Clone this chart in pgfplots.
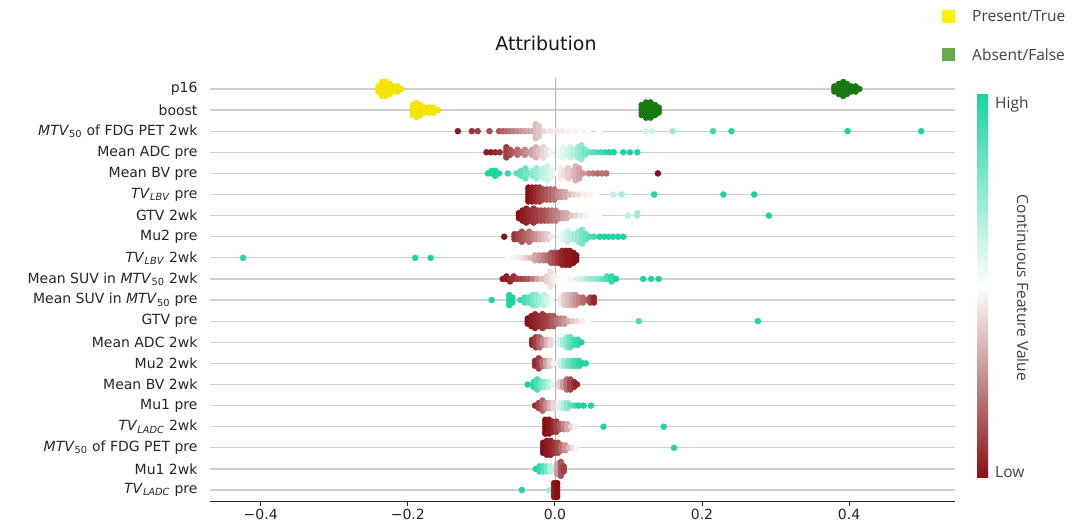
\documentclass[border=0pt]{standalone}
\usepackage{fontspec}
\setmainfont{DejaVu Sans}
\newfontfamily\legfont{Open Sans}
\usepackage{pgfplots}
\pgfplotsset{compat=1.18}
\definecolor{yel}{RGB}{245,228,0}
\definecolor{grn}{RGB}{24,122,14}
\definecolor{legyel}{RGB}{255,240,0}
\definecolor{leggrn}{RGB}{106,168,79}
\definecolor{gridc}{RGB}{208,208,208}
\definecolor{lowc}{RGB}{135,15,20}
\definecolor{highc}{RGB}{28,212,160}
\pgfplotsset{bee/.style={scatter, only marks, mark=*, mark size=3pt, scatter src=explicit,
  scatter/use mapped color={draw=mapped color,fill=mapped color}}}
\begin{document}
\begin{tikzpicture}
\useasboundingbox (0,0) rectangle (1090pt,532pt);
\begin{axis}[
 at={(210pt,31pt)}, anchor=south west,
 scale only axis, width=745pt, height=423pt,
 xmin=-0.469, xmax=0.544, ymin=-0.52, ymax=19.52,
 axis x line*=bottom, axis y line*=left,
 y axis line style={draw=none},
 x axis line style={line width=0.9pt, black!85},
 xtick={-0.4,-0.2,0,0.2,0.4},
 xticklabels={−0.4,−0.2,0.0,0.2,0.4},
 xtick style={line width=0.9pt, black!85},
 tick align=outside, major tick length=5pt,
 ytick={0,...,19},
 ytick style={draw=none},
 yticklabel style={xshift=-4pt},
 yticklabels={{\textit{TV}\textsubscript{\textit{LADC}} pre},{Mu1 2wk},{\textit{MTV}\textsubscript{50} of FDG PET pre},{\textit{TV}\textsubscript{\textit{LADC}} 2wk},{Mu1 pre},{Mean BV 2wk},{Mu2 2wk},{Mean ADC 2wk},{GTV pre},{Mean SUV in \textit{MTV}\textsubscript{50} pre},{Mean SUV in \textit{MTV}\textsubscript{50} 2wk},{\textit{TV}\textsubscript{\textit{LBV}} 2wk},{Mu2 pre},{GTV 2wk},{\textit{TV}\textsubscript{\textit{LBV}} pre},{Mean BV pre},{Mean ADC pre},{\textit{MTV}\textsubscript{50} of FDG PET 2wk},{boost},{p16}},
 ticklabel style={font=\fontsize{14}{16}\selectfont, text=black!85},
 ymajorgrids, grid style={gridc, line width=1.2pt},
 colormap={shap}{rgb255=(135,15,20) rgb255=(255,255,255) rgb255=(28,212,160)},
 point meta min=0, point meta max=1,
 clip=false,
]
\addplot[gray!60, line width=0.8pt, forget plot] coordinates {(0,-0.52) (0,19.52)};
% p16 and boost (binary)
\addplot[only marks, mark=*, mark size=3pt, color=yel] coordinates {
(-0.240,19) (-0.240,19.12) (-0.240,18.88)
(-0.235,19) (-0.235,19.12) (-0.235,18.88) (-0.235,19.24) (-0.235,18.76) (-0.235,19.33) (-0.235,18.67)
(-0.230,19) (-0.230,19.12) (-0.230,18.88) (-0.230,19.24) (-0.230,18.76) (-0.230,19.33) (-0.230,18.67)
(-0.225,19) (-0.225,19.12) (-0.225,18.88) (-0.225,19.24) (-0.225,18.76)
(-0.220,19) (-0.220,19.12) (-0.220,18.88)
(-0.214,19) (-0.214,19.12) (-0.214,18.88)
(-0.209,19)
(-0.193,18) (-0.193,18.12) (-0.193,17.88) (-0.193,18.24) (-0.193,17.76)
(-0.188,18) (-0.188,18.12) (-0.188,17.88) (-0.188,18.24) (-0.188,17.76) (-0.188,18.33) (-0.188,17.67)
(-0.183,18) (-0.183,18.12) (-0.183,17.88) (-0.183,18.24) (-0.183,17.76)
(-0.177,18) (-0.177,18.12) (-0.177,17.88)
(-0.171,18) (-0.171,18.12) (-0.171,17.88)
(-0.165,18) (-0.165,18.12) (-0.165,17.88)
(-0.159,18)
};
\addplot[only marks, mark=*, mark size=3pt, color=grn] coordinates {
(0.380,19) (0.380,19.12) (0.380,18.88)
(0.386,19) (0.386,19.12) (0.386,18.88) (0.386,19.24) (0.386,18.76)
(0.392,19) (0.392,19.12) (0.392,18.88) (0.392,19.24) (0.392,18.76) (0.392,19.33) (0.392,18.67)
(0.397,19) (0.397,19.12) (0.397,18.88) (0.397,19.24) (0.397,18.76)
(0.403,19) (0.403,19.12) (0.403,18.88)
(0.409,19) (0.409,19.12) (0.409,18.88)
(0.414,19)
(0.118,18) (0.118,18.12) (0.118,17.88) (0.118,18.24) (0.118,17.76)
(0.124,18) (0.124,18.12) (0.124,17.88) (0.124,18.24) (0.124,17.76) (0.124,18.36) (0.124,17.64)
(0.130,18) (0.130,18.12) (0.130,17.88) (0.130,18.24) (0.130,17.76) (0.130,18.36) (0.130,17.64)
(0.136,18) (0.136,18.12) (0.136,17.88) (0.136,18.24) (0.136,17.76)
(0.141,18) (0.141,18.12) (0.141,17.88)
};
% MTV50 of FDG PET 2wk
\addplot[bee] coordinates {
(-0.132,17) [0.02] (-0.113,17) [0.08] (-0.105,17) [0.10] (-0.089,17) [0.12] (-0.076,17) [0.15] (-0.071,17) [0.17] (-0.066,17) [0.19] (-0.061,17) [0.21] (-0.056,17) [0.23] (-0.051,17) [0.25] (-0.046,17) [0.27] (-0.041,17) [0.29] (-0.036,17) [0.31] (-0.031,17) [0.33]
(-0.026,17) [0.36] (-0.026,17.12) [0.36] (-0.026,16.88) [0.36] (-0.026,17.24) [0.36] (-0.026,16.76) [0.36] (-0.026,17.33) [0.36] (-0.026,16.67) [0.36]
(-0.022,17) [0.38] (-0.022,17.12) [0.38] (-0.022,16.88) [0.38] (-0.022,17.24) [0.38] (-0.022,16.76) [0.38]
(-0.015,17) [0.42] (-0.007,17) [0.44] (0.002,17) [0.45] (0.010,17) [0.46] (0.018,17) [0.47] (0.026,17) [0.48] (0.034,17) [0.49] (0.045,17) [0.5] (0.060,17) [0.5]
(0.123,17) [0.6] (0.132,17) [0.62] (0.160,17) [0.72] (0.215,17) [0.95] (0.240,17) [1] (0.398,17) [1] (0.498,17) [1]
};
% Mean ADC pre
\addplot[bee] coordinates {
(-0.093,16) [0.02] (-0.087,16) [0.03] (-0.081,16) [0.05] (-0.075,16) [0.07]
(-0.066,16) [0.1] (-0.066,16.12) [0.1] (-0.066,15.88) [0.1] (-0.066,16.24) [0.1] (-0.066,15.76) [0.1]
(-0.061,16) [0.13] (-0.061,16.12) [0.13] (-0.061,15.88) [0.13]
(-0.056,16) [0.16]
(-0.051,16) [0.19] (-0.051,16.12) [0.19] (-0.051,15.88) [0.19]
(-0.046,16) [0.22]
(-0.041,16) [0.25] (-0.041,16.12) [0.25] (-0.041,15.88) [0.25]
(-0.036,16) [0.28]
(-0.031,16) [0.31] (-0.031,16.12) [0.31] (-0.031,15.88) [0.31]
(-0.026,16) [0.34] (-0.026,16.12) [0.34] (-0.026,15.88) [0.34] (-0.026,16.24) [0.34] (-0.026,15.76) [0.34]
(-0.021,16) [0.38] (-0.021,16.12) [0.38] (-0.021,15.88) [0.38]
(-0.016,16) [0.41] (-0.016,16.12) [0.41] (-0.016,15.88) [0.41] (-0.016,16.24) [0.41] (-0.016,15.76) [0.41]
(-0.011,16) [0.44] (-0.011,16.12) [0.44] (-0.011,15.88) [0.44]
(-0.006,16) [0.47]
(0.006,16) [0.54] (0.006,16.12) [0.54] (0.006,15.88) [0.54]
(0.011,16) [0.57] (0.011,16.12) [0.57] (0.011,15.88) [0.57] (0.011,16.24) [0.57] (0.011,15.76) [0.57]
(0.016,16) [0.6] (0.016,16.12) [0.6] (0.016,15.88) [0.6]
(0.021,16) [0.63] (0.021,16.12) [0.63] (0.021,15.88) [0.63] (0.021,16.24) [0.63] (0.021,15.76) [0.63]
(0.026,16) [0.67] (0.026,16.12) [0.67] (0.026,15.88) [0.67]
(0.031,16) [0.71] (0.031,16.12) [0.71] (0.031,15.88) [0.71] (0.031,16.24) [0.71] (0.031,15.76) [0.71]
(0.036,16) [0.75] (0.036,16.12) [0.75] (0.036,15.88) [0.75] (0.036,16.24) [0.75] (0.036,15.76) [0.75] (0.036,16.33) [0.75] (0.036,15.67) [0.75]
(0.041,16) [0.79] (0.041,16.12) [0.79] (0.041,15.88) [0.79]
(0.046,16) [0.83] (0.051,16) [0.87] (0.056,16) [0.9] (0.062,16) [0.93] (0.068,16) [0.96] (0.074,16) [1] (0.080,16) [1] (0.093,16) [1] (0.102,16) [1] (0.112,16) [1]
};
% Mean BV pre
\addplot[bee] coordinates {
(-0.091,15) [1] (-0.086,15) [1] (-0.086,15.12) [1] (-0.081,15) [1] (-0.081,15.12) [1] (-0.081,14.88) [1] (-0.076,15) [0.98] (-0.064,15) [0.95] (-0.052,15) [0.88]
(-0.046,15) [0.85] (-0.046,15.12) [0.85] (-0.046,14.88) [0.85]
(-0.040,15) [0.82] (-0.040,15.12) [0.82] (-0.040,14.88) [0.82] (-0.040,15.24) [0.82] (-0.040,14.76) [0.82]
(-0.035,15) [0.78]
(-0.030,15) [0.75] (-0.030,15.12) [0.75] (-0.030,14.88) [0.75]
(-0.025,15) [0.72] (-0.025,15.12) [0.72] (-0.025,14.88) [0.72] (-0.025,15.24) [0.72] (-0.025,14.76) [0.72]
(-0.020,15) [0.68] (-0.020,15.12) [0.68] (-0.020,14.88) [0.68]
(-0.015,15) [0.65] (-0.015,15.12) [0.65] (-0.015,14.88) [0.65] (-0.015,15.24) [0.65] (-0.015,14.76) [0.65]
(-0.010,15) [0.62] (-0.010,15.12) [0.62] (-0.010,14.88) [0.62] (-0.010,15.24) [0.62] (-0.010,14.76) [0.62] (-0.010,15.33) [0.62] (-0.010,14.67) [0.62]
(-0.005,15) [0.58] (-0.005,15.12) [0.58] (-0.005,14.88) [0.58]
(0.000,15) [0.53]
(0.008,15) [0.46] (0.008,15.12) [0.46] (0.008,14.88) [0.46] (0.008,15.24) [0.46] (0.008,14.76) [0.46]
(0.013,15) [0.43] (0.013,15.12) [0.43] (0.013,14.88) [0.43]
(0.018,15) [0.4] (0.018,15.12) [0.4] (0.018,14.88) [0.4] (0.018,15.24) [0.4] (0.018,14.76) [0.4]
(0.023,15) [0.37] (0.023,15.12) [0.37] (0.023,14.88) [0.37]
(0.028,15) [0.34] (0.028,15.12) [0.34] (0.028,14.88) [0.34] (0.028,15.24) [0.34] (0.028,14.76) [0.34] (0.028,15.33) [0.34] (0.028,14.67) [0.34]
(0.033,15) [0.31] (0.033,15.12) [0.31] (0.033,14.88) [0.31] (0.033,15.24) [0.31] (0.033,14.76) [0.31]
(0.038,15) [0.28] (0.046,15) [0.25] (0.052,15) [0.22] (0.058,15) [0.2] (0.064,15) [0.2] (0.070,15) [0.2] (0.140,15) [0]
};
% TV_LBV pre
\addplot[bee] coordinates {
(-0.036,14) [0] (-0.036,14.12) [0] (-0.036,13.88) [0] (-0.036,14.24) [0] (-0.036,13.76) [0] (-0.036,14.33) [0] (-0.036,13.67) [0]
(-0.031,14) [0.03] (-0.031,14.12) [0.03] (-0.031,13.88) [0.03] (-0.031,14.24) [0.03] (-0.031,13.76) [0.03] (-0.031,14.33) [0.03] (-0.031,13.67) [0.03]
(-0.026,14) [0.06] (-0.026,14.12) [0.06] (-0.026,13.88) [0.06] (-0.026,14.24) [0.06] (-0.026,13.76) [0.06] (-0.026,14.33) [0.06] (-0.026,13.67) [0.06]
(-0.021,14) [0.09] (-0.021,14.12) [0.09] (-0.021,13.88) [0.09] (-0.021,14.24) [0.09] (-0.021,13.76) [0.09] (-0.021,14.33) [0.09] (-0.021,13.67) [0.09]
(-0.016,14) [0.12] (-0.016,14.12) [0.12] (-0.016,13.88) [0.12] (-0.016,14.24) [0.12] (-0.016,13.76) [0.12]
(-0.011,14) [0.15] (-0.011,14.12) [0.15] (-0.011,13.88) [0.15] (-0.011,14.24) [0.15] (-0.011,13.76) [0.15]
(-0.006,14) [0.18] (-0.006,14.12) [0.18] (-0.006,13.88) [0.18] (-0.006,14.24) [0.18] (-0.006,13.76) [0.18]
(-0.001,14) [0.21] (-0.001,14.12) [0.21] (-0.001,13.88) [0.21] (-0.001,14.24) [0.21] (-0.001,13.76) [0.21]
(0.004,14) [0.25] (0.004,14.12) [0.25] (0.004,13.88) [0.25]
(0.009,14) [0.28] (0.009,14.12) [0.28] (0.009,13.88) [0.28]
(0.014,14) [0.32] (0.014,14.12) [0.32] (0.014,13.88) [0.32]
(0.020,14) [0.36] (0.026,14) [0.4] (0.032,14) [0.43] (0.040,14) [0.46] (0.048,14) [0.48] (0.056,14) [0.5]
(0.079,14) [0.65] (0.091,14) [0.7] (0.135,14) [1] (0.229,14) [1] (0.271,14) [1]
};
% GTV 2wk
\addplot[bee] coordinates {
(-0.049,13) [0] (-0.049,13.12) [0] (-0.049,12.88) [0]
(-0.044,13) [0.02] (-0.044,13.12) [0.02] (-0.044,12.88) [0.02] (-0.044,13.24) [0.02] (-0.044,12.76) [0.02]
(-0.039,13) [0.04] (-0.039,13.12) [0.04] (-0.039,12.88) [0.04] (-0.039,13.24) [0.04] (-0.039,12.76) [0.04] (-0.039,13.33) [0.04] (-0.039,12.67) [0.04]
(-0.034,13) [0.06] (-0.034,13.12) [0.06] (-0.034,12.88) [0.06] (-0.034,13.24) [0.06] (-0.034,12.76) [0.06]
(-0.029,13) [0.08] (-0.029,13.12) [0.08] (-0.029,12.88) [0.08] (-0.029,13.24) [0.08] (-0.029,12.76) [0.08] (-0.029,13.33) [0.08] (-0.029,12.67) [0.08]
(-0.024,13) [0.1] (-0.024,13.12) [0.1] (-0.024,12.88) [0.1] (-0.024,13.24) [0.1] (-0.024,12.76) [0.1]
(-0.019,13) [0.12] (-0.019,13.12) [0.12] (-0.019,12.88) [0.12] (-0.019,13.24) [0.12] (-0.019,12.76) [0.12]
(-0.014,13) [0.14] (-0.014,13.12) [0.14] (-0.014,12.88) [0.14] (-0.014,13.24) [0.14] (-0.014,12.76) [0.14]
(-0.009,13) [0.17] (-0.009,13.12) [0.17] (-0.009,12.88) [0.17] (-0.009,13.24) [0.17] (-0.009,12.76) [0.17]
(-0.004,13) [0.2] (-0.004,13.12) [0.2] (-0.004,12.88) [0.2] (-0.004,13.24) [0.2] (-0.004,12.76) [0.2]
(0.001,13) [0.23] (0.001,13.12) [0.23] (0.001,12.88) [0.23] (0.001,13.24) [0.23] (0.001,12.76) [0.23]
(0.006,13) [0.26] (0.006,13.12) [0.26] (0.006,12.88) [0.26]
(0.011,13) [0.3] (0.011,13.12) [0.3] (0.011,12.88) [0.3]
(0.016,13) [0.33] (0.016,13.12) [0.33] (0.016,12.88) [0.33]
(0.022,13) [0.37] (0.028,13) [0.41] (0.035,13) [0.45] (0.043,13) [0.48] (0.051,13) [0.5] (0.060,13) [0.52]
(0.099,13) [0.65] (0.112,13) [0.7] (0.112,13.12) [0.7] (0.291,13) [1]
};
% Mu2 pre
\addplot[bee] coordinates {
(-0.069,12) [0]
(-0.055,12) [0.08] (-0.055,12.12) [0.08] (-0.055,11.88) [0.08]
(-0.050,12) [0.11] (-0.050,12.12) [0.11] (-0.050,11.88) [0.11]
(-0.045,12) [0.14] (-0.045,12.12) [0.14] (-0.045,11.88) [0.14] (-0.045,12.24) [0.14] (-0.045,11.76) [0.14]
(-0.040,12) [0.17] (-0.040,12.12) [0.17] (-0.040,11.88) [0.17]
(-0.035,12) [0.2] (-0.035,12.12) [0.2] (-0.035,11.88) [0.2] (-0.035,12.24) [0.2] (-0.035,11.76) [0.2]
(-0.030,12) [0.24] (-0.030,12.12) [0.24] (-0.030,11.88) [0.24]
(-0.025,12) [0.28] (-0.025,12.12) [0.28] (-0.025,11.88) [0.28]
(-0.020,12) [0.32] (-0.020,12.12) [0.32] (-0.020,11.88) [0.32]
(-0.015,12) [0.36] (-0.015,12.12) [0.36] (-0.015,11.88) [0.36]
(-0.010,12) [0.4] (-0.010,12.12) [0.4] (-0.010,11.88) [0.4]
(-0.005,12) [0.45]
(0.007,12) [0.55] (0.007,12.12) [0.55] (0.007,11.88) [0.55]
(0.012,12) [0.58] (0.012,12.12) [0.58] (0.012,11.88) [0.58]
(0.017,12) [0.62] (0.017,12.12) [0.62] (0.017,11.88) [0.62] (0.017,12.24) [0.62] (0.017,11.76) [0.62]
(0.022,12) [0.66] (0.022,12.12) [0.66] (0.022,11.88) [0.66]
(0.027,12) [0.7] (0.027,12.12) [0.7] (0.027,11.88) [0.7]
(0.032,12) [0.74] (0.032,12.12) [0.74] (0.032,11.88) [0.74] (0.032,12.24) [0.74] (0.032,11.76) [0.74]
(0.037,12) [0.8] (0.037,12.12) [0.8] (0.037,11.88) [0.8] (0.037,12.24) [0.8] (0.037,11.76) [0.8] (0.037,12.33) [0.8] (0.037,11.67) [0.8]
(0.042,12) [0.84] (0.042,12.12) [0.84] (0.042,11.88) [0.84]
(0.047,12) [0.88] (0.053,12) [0.92] (0.061,12) [1] (0.067,12) [1] (0.073,12) [1] (0.079,12) [1] (0.086,12) [1] (0.093,12) [1]
};
% TV_LBV 2wk
\addplot[bee] coordinates {
(-0.424,11) [1] (-0.190,11) [1] (-0.169,11) [1]
(-0.063,11) [0.5] (-0.057,11) [0.48] (-0.051,11) [0.46] (-0.045,11) [0.44] (-0.039,11) [0.4] (-0.033,11) [0.36]
(-0.027,11) [0.32] (-0.027,11.12) [0.32] (-0.027,10.88) [0.32]
(-0.021,11) [0.28] (-0.021,11.12) [0.28] (-0.021,10.88) [0.28]
(-0.015,11) [0.24] (-0.015,11.12) [0.24] (-0.015,10.88) [0.24]
(-0.010,11) [0.2] (-0.010,11.12) [0.2] (-0.010,10.88) [0.2]
(-0.005,11) [0.16] (-0.005,11.12) [0.16] (-0.005,10.88) [0.16] (-0.005,11.24) [0.16] (-0.005,10.76) [0.16]
(0.000,11) [0.12] (0.000,11.12) [0.12] (0.000,10.88) [0.12] (0.000,11.24) [0.12] (0.000,10.76) [0.12]
(0.005,11) [0.08] (0.005,11.12) [0.08] (0.005,10.88) [0.08] (0.005,11.24) [0.08] (0.005,10.76) [0.08]
(0.010,11) [0.05] (0.010,11.12) [0.05] (0.010,10.88) [0.05] (0.010,11.24) [0.05] (0.010,10.76) [0.05] (0.010,11.33) [0.05] (0.010,10.67) [0.05]
(0.015,11) [0.03] (0.015,11.12) [0.03] (0.015,10.88) [0.03] (0.015,11.24) [0.03] (0.015,10.76) [0.03] (0.015,11.33) [0.03] (0.015,10.67) [0.03]
(0.020,11) [0.02] (0.020,11.12) [0.02] (0.020,10.88) [0.02] (0.020,11.24) [0.02] (0.020,10.76) [0.02] (0.020,11.33) [0.02] (0.020,10.67) [0.02]
(0.025,11) [0.01] (0.025,11.12) [0.01] (0.025,10.88) [0.01] (0.025,11.24) [0.01] (0.025,10.76) [0.01]
(0.029,11) [0] (0.029,11.12) [0] (0.029,10.88) [0]
};
% Mean SUV in MTV50 2wk
\addplot[bee] coordinates {
(-0.071,10) [0.02] (-0.066,10) [0.03] (-0.066,10.12) [0.03] (-0.061,10) [0.05] (-0.061,9.88) [0.05] (-0.056,10) [0.07] (-0.056,10.12) [0.07] (-0.051,10) [0.09] (-0.046,10) [0.11] (-0.041,10) [0.13] (-0.036,10) [0.16] (-0.030,10) [0.22] (-0.024,10) [0.3] (-0.017,10) [0.36]
(-0.011,10) [0.4] (-0.011,10.12) [0.4] (-0.011,9.88) [0.4]
(-0.006,10) [0.43] (-0.006,10.12) [0.43] (-0.006,9.88) [0.43] (-0.006,10.24) [0.43] (-0.006,9.76) [0.43] (-0.006,10.33) [0.43] (-0.006,9.67) [0.43]
(-0.001,10) [0.46] (-0.001,10.12) [0.46] (-0.001,9.88) [0.46]
(0.006,10) [0.5] (0.014,10) [0.52] (0.022,10) [0.54] (0.031,10) [0.6] (0.037,10) [0.64] (0.043,10) [0.68] (0.049,10) [0.72] (0.055,10) [0.76] (0.061,10) [0.8] (0.066,10) [0.85]
(0.071,10) [0.9] (0.071,10.12) [0.9] (0.077,10) [0.95] (0.077,10.12) [0.95] (0.077,9.88) [0.95] (0.083,10) [1]
(0.120,10) [1] (0.131,10) [1] (0.141,10) [1]
};
% Mean SUV in MTV50 pre
\addplot[bee] coordinates {
(-0.086,9) [1]
(-0.062,9) [1] (-0.062,9.12) [1] (-0.062,8.88) [1] (-0.062,9.24) [1] (-0.062,8.76) [1]
(-0.058,9) [1] (-0.058,9.12) [1] (-0.058,8.88) [1]
(-0.047,9) [0.95]
(-0.041,9) [0.9] (-0.041,9.12) [0.9] (-0.041,8.88) [0.9]
(-0.035,9) [0.85] (-0.035,9.12) [0.85] (-0.035,8.88) [0.85]
(-0.030,9) [0.8] (-0.030,9.12) [0.8] (-0.030,8.88) [0.8] (-0.030,9.24) [0.8] (-0.030,8.76) [0.8]
(-0.025,9) [0.75] (-0.025,9.12) [0.75] (-0.025,8.88) [0.75] (-0.025,9.24) [0.75] (-0.025,8.76) [0.75]
(-0.020,9) [0.7] (-0.020,9.12) [0.7] (-0.020,8.88) [0.7]
(-0.015,9) [0.66] (-0.015,9.12) [0.66] (-0.015,8.88) [0.66] (-0.015,9.24) [0.66] (-0.015,8.76) [0.66]
(-0.010,9) [0.6] (-0.010,9.12) [0.6] (-0.010,8.88) [0.6]
(-0.005,9) [0.55]
(0.008,9) [0.45] (0.008,9.12) [0.45] (0.008,8.88) [0.45]
(0.013,9) [0.4] (0.013,9.12) [0.4] (0.013,8.88) [0.4] (0.013,9.24) [0.4] (0.013,8.76) [0.4]
(0.018,9) [0.36] (0.018,9.12) [0.36] (0.018,8.88) [0.36] (0.018,9.24) [0.36] (0.018,8.76) [0.36]
(0.023,9) [0.32] (0.023,9.12) [0.32] (0.023,8.88) [0.32] (0.023,9.24) [0.32] (0.023,8.76) [0.32]
(0.028,9) [0.28] (0.028,9.12) [0.28] (0.028,8.88) [0.28] (0.028,9.24) [0.28] (0.028,8.76) [0.28]
(0.033,9) [0.24] (0.033,9.12) [0.24] (0.033,8.88) [0.24]
(0.038,9) [0.2] (0.038,9.12) [0.2] (0.038,8.88) [0.2]
(0.043,9) [0.17]
(0.048,9) [0.12] (0.048,9.12) [0.12] (0.048,8.88) [0.12]
(0.053,9) [0.05] (0.053,9.12) [0.05] (0.053,8.88) [0.05]
};
% GTV pre
\addplot[bee] coordinates {
(-0.037,8) [0] (-0.037,8.12) [0] (-0.037,7.88) [0]
(-0.032,8) [0.02] (-0.032,8.12) [0.02] (-0.032,7.88) [0.02] (-0.032,8.24) [0.02] (-0.032,7.76) [0.02]
(-0.027,8) [0.04] (-0.027,8.12) [0.04] (-0.027,7.88) [0.04] (-0.027,8.24) [0.04] (-0.027,7.76) [0.04] (-0.027,8.33) [0.04] (-0.027,7.67) [0.04]
(-0.022,8) [0.06] (-0.022,8.12) [0.06] (-0.022,7.88) [0.06] (-0.022,8.24) [0.06] (-0.022,7.76) [0.06]
(-0.017,8) [0.08] (-0.017,8.12) [0.08] (-0.017,7.88) [0.08] (-0.017,8.24) [0.08] (-0.017,7.76) [0.08] (-0.017,8.33) [0.08] (-0.017,7.67) [0.08]
(-0.012,8) [0.1] (-0.012,8.12) [0.1] (-0.012,7.88) [0.1] (-0.012,8.24) [0.1] (-0.012,7.76) [0.1]
(-0.007,8) [0.13] (-0.007,8.12) [0.13] (-0.007,7.88) [0.13] (-0.007,8.24) [0.13] (-0.007,7.76) [0.13]
(-0.002,8) [0.16] (-0.002,8.12) [0.16] (-0.002,7.88) [0.16] (-0.002,8.24) [0.16] (-0.002,7.76) [0.16]
(0.003,8) [0.2] (0.003,8.12) [0.2] (0.003,7.88) [0.2]
(0.008,8) [0.24] (0.008,8.12) [0.24] (0.008,7.88) [0.24]
(0.013,8) [0.28] (0.013,8.12) [0.28] (0.013,7.88) [0.28]
(0.018,8) [0.33] (0.024,8) [0.38] (0.030,8) [0.42] (0.037,8) [0.46] (0.045,8) [0.49]
(0.114,8) [0.9] (0.276,8) [1]
};
% Mean ADC 2wk
\addplot[bee] coordinates {
(-0.031,7) [0.05] (-0.031,7.12) [0.05] (-0.031,6.88) [0.05]
(-0.026,7) [0.1] (-0.026,7.12) [0.1] (-0.026,6.88) [0.1] (-0.026,7.24) [0.1] (-0.026,6.76) [0.1]
(-0.021,7) [0.18] (-0.021,7.12) [0.18] (-0.021,6.88) [0.18] (-0.021,7.24) [0.18] (-0.021,6.76) [0.18]
(-0.016,7) [0.26] (-0.016,7.12) [0.26] (-0.016,6.88) [0.26]
(-0.011,7) [0.34] (-0.011,7.12) [0.34] (-0.011,6.88) [0.34]
(-0.006,7) [0.42] (-0.006,7.12) [0.42] (-0.006,6.88) [0.42]
(0.006,7) [0.6] (0.006,7.12) [0.6] (0.006,6.88) [0.6]
(0.011,7) [0.68] (0.011,7.12) [0.68] (0.011,6.88) [0.68]
(0.016,7) [0.76] (0.016,7.12) [0.76] (0.016,6.88) [0.76] (0.016,7.24) [0.76] (0.016,6.76) [0.76]
(0.021,7) [0.84] (0.021,7.12) [0.84] (0.021,6.88) [0.84] (0.021,7.24) [0.84] (0.021,6.76) [0.84]
(0.026,7) [0.9] (0.026,7.12) [0.9] (0.026,6.88) [0.9]
(0.031,7) [0.95] (0.031,7.12) [0.95] (0.031,6.88) [0.95]
(0.036,7) [1]
};
% Mu2 2wk
\addplot[bee] coordinates {
(-0.027,6) [0.05] (-0.027,6.12) [0.05] (-0.027,5.88) [0.05]
(-0.022,6) [0.1] (-0.022,6.12) [0.1] (-0.022,5.88) [0.1] (-0.022,6.24) [0.1] (-0.022,5.76) [0.1]
(-0.017,6) [0.2] (-0.017,6.12) [0.2] (-0.017,5.88) [0.2]
(-0.012,6) [0.3] (-0.012,6.12) [0.3] (-0.012,5.88) [0.3]
(-0.007,6) [0.4] (-0.007,6.12) [0.4] (-0.007,5.88) [0.4]
(-0.002,6) [0.47]
(0.008,6) [0.62] (0.008,6.12) [0.62] (0.008,5.88) [0.62]
(0.013,6) [0.72] (0.013,6.12) [0.72] (0.013,5.88) [0.72]
(0.018,6) [0.8] (0.018,6.12) [0.8] (0.018,5.88) [0.8]
(0.023,6) [0.86] (0.023,6.12) [0.86] (0.023,5.88) [0.86]
(0.028,6) [0.92] (0.028,6.12) [0.92] (0.028,5.88) [0.92]
(0.033,6) [0.96] (0.033,6.12) [0.96] (0.033,5.88) [0.96]
(0.038,6) [1] (0.042,6) [1]
};
% Mean BV 2wk
\addplot[bee] coordinates {
(-0.037,5) [1]
(-0.029,5) [0.95] (-0.029,5.12) [0.95] (-0.029,4.88) [0.95]
(-0.024,5) [0.9] (-0.024,5.12) [0.9] (-0.024,4.88) [0.9] (-0.024,5.24) [0.9] (-0.024,4.76) [0.9]
(-0.019,5) [0.82] (-0.019,5.12) [0.82] (-0.019,4.88) [0.82]
(-0.014,5) [0.75] (-0.014,5.12) [0.75] (-0.014,4.88) [0.75]
(-0.009,5) [0.67] (-0.009,5.12) [0.67] (-0.009,4.88) [0.67]
(-0.004,5) [0.58]
(0.006,5) [0.4] (0.006,5.12) [0.4] (0.006,4.88) [0.4]
(0.011,5) [0.3] (0.011,5.12) [0.3] (0.011,4.88) [0.3]
(0.016,5) [0.2] (0.016,5.12) [0.2] (0.016,4.88) [0.2] (0.016,5.24) [0.2] (0.016,4.76) [0.2]
(0.021,5) [0.12] (0.021,5.12) [0.12] (0.021,4.88) [0.12] (0.021,5.24) [0.12] (0.021,4.76) [0.12]
(0.026,5) [0.07] (0.026,5.12) [0.07] (0.026,4.88) [0.07]
(0.030,5) [0.04]
};
% Mu1 pre
\addplot[bee] coordinates {
(-0.027,4) [0.05]
(-0.022,4) [0.1] (-0.022,4.12) [0.1] (-0.022,3.88) [0.1]
(-0.017,4) [0.18] (-0.017,4.12) [0.18] (-0.017,3.88) [0.18] (-0.017,4.24) [0.18] (-0.017,3.76) [0.18]
(-0.012,4) [0.26] (-0.012,4.12) [0.26] (-0.012,3.88) [0.26]
(-0.007,4) [0.34] (-0.007,4.12) [0.34] (-0.007,3.88) [0.34]
(-0.002,4) [0.42] (-0.002,4.12) [0.42] (-0.002,3.88) [0.42]
(0.007,4) [0.6] (0.007,4.12) [0.6] (0.007,3.88) [0.6]
(0.012,4) [0.68] (0.012,4.12) [0.68] (0.012,3.88) [0.68]
(0.017,4) [0.76] (0.017,4.12) [0.76] (0.017,3.88) [0.76]
(0.022,4) [0.84] (0.027,4) [0.9] (0.032,4) [1] (0.039,4) [1] (0.049,4) [1]
};
% TV_LADC 2wk
\addplot[bee] coordinates {
(-0.013,3) [0] (-0.013,3.12) [0] (-0.013,2.88) [0] (-0.013,3.24) [0] (-0.013,2.76) [0] (-0.013,3.33) [0] (-0.013,2.67) [0]
(-0.008,3) [0.02] (-0.008,3.12) [0.02] (-0.008,2.88) [0.02] (-0.008,3.24) [0.02] (-0.008,2.76) [0.02] (-0.008,3.33) [0.02] (-0.008,2.67) [0.02]
(-0.003,3) [0.05] (-0.003,3.12) [0.05] (-0.003,2.88) [0.05] (-0.003,3.24) [0.05] (-0.003,2.76) [0.05]
(0.002,3) [0.1] (0.002,3.12) [0.1] (0.002,2.88) [0.1] (0.002,3.24) [0.1] (0.002,2.76) [0.1]
(0.007,3) [0.16] (0.007,3.12) [0.16] (0.007,2.88) [0.16]
(0.012,3) [0.24] (0.012,3.12) [0.24] (0.012,2.88) [0.24]
(0.017,3) [0.32] (0.017,3.12) [0.32] (0.017,2.88) [0.32]
(0.022,3) [0.4] (0.027,3) [0.46] (0.066,3) [1] (0.148,3) [1]
};
% MTV50 of FDG PET pre
\addplot[bee] coordinates {
(-0.016,2) [0] (-0.016,2.12) [0] (-0.016,1.88) [0] (-0.016,2.24) [0] (-0.016,1.76) [0]
(-0.011,2) [0.02] (-0.011,2.12) [0.02] (-0.011,1.88) [0.02] (-0.011,2.24) [0.02] (-0.011,1.76) [0.02] (-0.011,2.33) [0.02] (-0.011,1.67) [0.02]
(-0.006,2) [0.04] (-0.006,2.12) [0.04] (-0.006,1.88) [0.04] (-0.006,2.24) [0.04] (-0.006,1.76) [0.04] (-0.006,2.33) [0.04] (-0.006,1.67) [0.04]
(-0.001,2) [0.07] (-0.001,2.12) [0.07] (-0.001,1.88) [0.07] (-0.001,2.24) [0.07] (-0.001,1.76) [0.07]
(0.004,2) [0.12] (0.004,2.12) [0.12] (0.004,1.88) [0.12] (0.004,2.24) [0.12] (0.004,1.76) [0.12]
(0.009,2) [0.2] (0.009,2.12) [0.2] (0.009,1.88) [0.2]
(0.014,2) [0.28] (0.014,2.12) [0.28] (0.014,1.88) [0.28]
(0.019,2) [0.36] (0.024,2) [0.43] (0.029,2) [0.48] (0.162,2) [1]
};
% Mu1 2wk
\addplot[bee] coordinates {
(-0.026,1) [1]
(-0.021,1) [0.95] (-0.021,1.12) [0.95] (-0.021,0.88) [0.95]
(-0.016,1) [0.88] (-0.016,1.12) [0.88] (-0.016,0.88) [0.88]
(-0.011,1) [0.78] (-0.011,1.12) [0.78] (-0.011,0.88) [0.78]
(-0.006,1) [0.65] (-0.006,1.12) [0.65] (-0.006,0.88) [0.65]
(0.003,1) [0.3] (0.003,1.12) [0.3] (0.003,0.88) [0.3] (0.003,1.24) [0.3] (0.003,0.76) [0.3]
(0.008,1) [0.15] (0.008,1.12) [0.15] (0.008,0.88) [0.15] (0.008,1.24) [0.15] (0.008,0.76) [0.15] (0.008,1.33) [0.15] (0.008,0.67) [0.15]
(0.012,1) [0.1] (0.012,1.12) [0.1] (0.012,0.88) [0.1]
};
% TV_LADC pre
\addplot[bee] coordinates {
(-0.045,0) [1] (-0.008,0) [0.7]
(-0.001,0) [0.02] (-0.001,0.12) [0.02] (-0.001,-0.12) [0.02] (-0.001,0.24) [0.02] (-0.001,-0.24) [0.02] (-0.001,0.33) [0.02] (-0.001,-0.33) [0.02]
(0.003,0) [0] (0.003,0.12) [0] (0.003,-0.12) [0] (0.003,0.24) [0] (0.003,-0.24) [0] (0.003,0.33) [0] (0.003,-0.33) [0]
};
\end{axis}
% title
\node[font=\fontsize{19}{22}\selectfont, text=black!90] at (546pt,489pt) {Attribution};
% legend
\fill[legyel] (942pt,509pt) rectangle (955pt,522pt);
\fill[leggrn] (942pt,471pt) rectangle (955pt,484pt);
\node[anchor=west, font=\legfont\fontsize{15.5}{18}\selectfont, text=black!75, inner sep=0pt] at (972pt,515.5pt) {Present/True};
\node[anchor=west, font=\legfont\fontsize{15.5}{18}\selectfont, text=black!75, inner sep=0pt] at (972pt,477.5pt) {Absent/False};
% colorbar
\shade[top color=highc, bottom color=lowc, middle color=white] (977pt,54pt) rectangle (988pt,437pt);
\node[anchor=west, font=\legfont\fontsize{15.5}{18}\selectfont, text=black!75, inner sep=0pt] at (995pt,428pt) {High};
\node[anchor=west, font=\legfont\fontsize{15.5}{18}\selectfont, text=black!75, inner sep=0pt] at (995pt,60pt) {Low};
\node[rotate=-90, font=\legfont\fontsize{15.5}{18}\selectfont, text=black!75] at (1023pt,244pt) {Continuous Feature Value};
\end{tikzpicture}
\end{document}
